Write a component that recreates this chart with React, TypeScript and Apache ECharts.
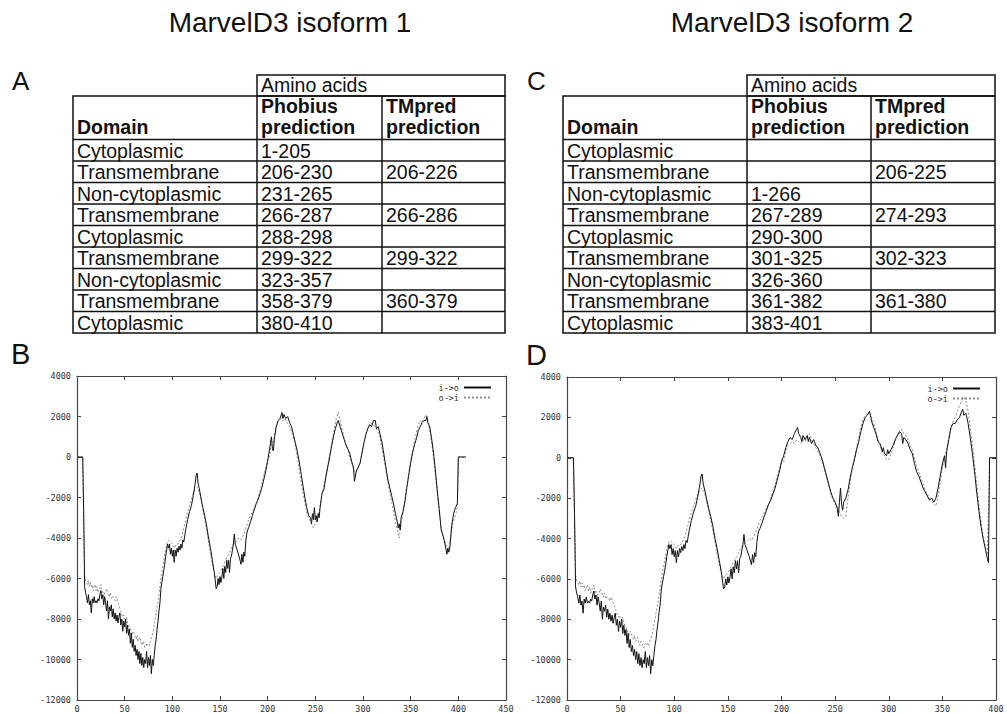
import React, { useEffect, useRef } from "react";
import * as echarts from "echarts";

// ---------- table contents ----------
const domains = ["Cytoplasmic", "Transmembrane", "Non-cytoplasmic", "Transmembrane", "Cytoplasmic", "Transmembrane", "Non-cytoplasmic", "Transmembrane", "Cytoplasmic"];
const iso1Phobius = ["1-205", "206-230", "231-265", "266-287", "288-298", "299-322", "323-357", "358-379", "380-410"];
const iso1TMpred = ["", "206-226", "", "266-286", "", "299-322", "", "360-379", ""];
const iso2Phobius = ["", "", "1-266", "267-289", "290-300", "301-325", "326-360", "361-382", "383-401"];
const iso2TMpred = ["", "206-225", "", "274-293", "", "302-323", "", "361-380", ""];

// ---------- axis ticks ----------
const yMin = -12000, yMax = 4000, yStep = 2000;
const x1Max = 450, x2Max = 400, xStep = 50;

// ---------- TMpred profiles (residue, score) ----------
// N-terminal part, identical in both isoforms
const nTermInOut: [number, number][] = [[0,0],[6,0],[7,-2700],[8,-6400],[9,-6700],[10,-6900],[11,-7200],[12,-6800],[13,-7300],[14,-7100],[15,-7700],[16,-7000],[17,-7200],[18,-6900],[19,-7200],[20,-7100],[21,-7200],[22,-7000],[23,-7100],[24,-6800],[25,-6600],[26,-7000],[27,-6800],[28,-7300],[29,-6900],[30,-7200],[31,-7600],[32,-7100],[33,-8000],[34,-7400],[35,-7600],[36,-7300],[37,-7900],[38,-7500],[39,-8000],[40,-7700],[41,-8100],[42,-7800],[43,-8200],[44,-7900],[45,-7700],[46,-8300],[47,-8000],[48,-8600],[49,-8100],[50,-8400],[51,-8000],[52,-8700],[53,-8300],[54,-8800],[55,-8500],[56,-9200],[57,-8700],[58,-9400],[59,-9000],[60,-9600],[61,-9300],[62,-9800],[63,-9500],[64,-10000],[65,-9600],[66,-10200],[67,-9700],[68,-10300],[69,-9900],[70,-10400],[71,-10000],[72,-10200],[73,-9600],[74,-10400],[75,-9900],[76,-10300],[77,-9800],[78,-10700],[79,-10000],[80,-10300],[81,-9800],[82,-9300],[83,-9000],[84,-8500],[85,-8100],[86,-7600],[87,-7200],[88,-6500],[89,-6200],[90,-5900],[91,-5600],[92,-5300],[93,-4900],[94,-4600],[95,-4300],[96,-4500],[97,-4300],[98,-4800],[99,-4500],[100,-4900],[101,-4600],[102,-5200],[103,-4600],[104,-4900],[105,-4500],[106,-4700],[107,-4400],[108,-4600],[109,-4300],[110,-4500],[111,-4100],[112,-4200],[113,-3900],[114,-3600],[116,-3100],[118,-2700],[120,-2400],[122,-1900],[124,-1300],[125,-900],[126,-800],[127,-1300],[128,-1500],[130,-2000],[132,-2500],[134,-2900],[136,-3400],[138,-4000],[140,-4500],[142,-5100],[144,-5700],[146,-6500],[147,-6400],[148,-6000],[149,-6300],[150,-5900],[151,-6200],[152,-5900],[153,-5500],[154,-6000],[155,-5400],[156,-5700],[157,-5100],[158,-5500],[159,-5100],[160,-5700],[161,-5000],[162,-4900],[163,-4600],[164,-4300],[165,-3800],[166,-4300],[168,-4600],[170,-4900],[172,-5300],[173,-4800],[174,-5200],[175,-4700],[176,-4900],[177,-4200],[178,-3800],[179,-3600],[180,-3500],[182,-3200],[184,-2900],[186,-2600],[188,-2300],[190,-2100],[192,-1800],[194,-1500],[196,-1100],[198,-700],[200,-200]];
const nTermOutIn: [number, number][] = [[0,0],[6,0],[7,-3000],[8,-5800],[9,-6100],[10,-6200],[11,-6300],[12,-6100],[13,-6400],[14,-6200],[15,-6400],[16,-6300],[17,-6600],[18,-6400],[19,-6300],[20,-6600],[21,-6400],[22,-6700],[23,-6500],[24,-6500],[25,-6300],[26,-6700],[27,-6600],[28,-6900],[29,-6700],[30,-6700],[31,-6500],[32,-6600],[33,-6800],[34,-6900],[35,-6700],[36,-7000],[37,-6900],[38,-6900],[39,-7000],[40,-7100],[41,-6900],[42,-7000],[43,-7200],[44,-7300],[45,-7500],[46,-7600],[47,-7800],[48,-7900],[49,-7800],[50,-8000],[51,-8100],[52,-7900],[53,-8200],[54,-8300],[55,-8400],[56,-8500],[57,-8700],[58,-8800],[59,-8600],[60,-8700],[61,-8900],[62,-9000],[63,-8800],[64,-9100],[65,-9000],[66,-8900],[67,-9200],[68,-9300],[69,-9100],[70,-9200],[71,-9400],[72,-9400],[73,-9200],[74,-9300],[75,-9200],[76,-9300],[77,-9100],[78,-9000],[79,-8800],[80,-8600],[82,-8000],[84,-7400],[86,-6800],[88,-6000],[90,-5400],[92,-4800],[94,-4300],[96,-4100],[98,-4200],[100,-4300],[102,-4500],[104,-4300],[106,-4300],[108,-4100],[110,-3900],[112,-3500],[114,-3100],[116,-2700],[118,-2400],[120,-2100],[122,-1800],[124,-1600],[126,-1500],[128,-1700],[130,-2100],[132,-2600],[134,-3100],[136,-3600],[138,-4200],[140,-4800],[142,-5300],[144,-5700],[146,-6000],[148,-5800],[150,-5700],[152,-5500],[154,-5300],[156,-5100],[158,-4900],[160,-4700],[162,-4500],[164,-4300],[166,-4200],[168,-4100],[170,-4000],[172,-4100],[174,-3900],[176,-3700],[178,-3400],[180,-3100],[182,-2900],[184,-2700],[186,-2500],[188,-2300],[190,-2000],[192,-1700],[194,-1300],[196,-900],[198,-500],[200,-100]];

// isoform 1, C-terminal part
const iso1CInOut: [number, number][] = [[202,400],[204,1000],[205,400],[206,300],[207,900],[209,1500],[211,1800],[213,1900],[215,2200],[216,1900],[217,2100],[219,1900],[221,2000],[223,1700],[225,1500],[227,1100],[229,700],[231,300],[233,-200],[235,-800],[237,-1400],[239,-2000],[241,-2500],[243,-2900],[245,-3000],[246,-3300],[247,-2800],[248,-3100],[249,-2500],[250,-3100],[251,-2900],[252,-3200],[253,-2800],[254,-3000],[255,-2500],[257,-1800],[259,-1600],[261,-1000],[263,-500],[265,0],[267,500],[269,1000],[271,1400],[273,1700],[274,1800],[276,1500],[278,1200],[280,900],[282,600],[284,400],[286,200],[288,-200],[290,-500],[291,-1200],[293,-700],[295,-500],[297,-300],[299,200],[301,700],[303,1100],[305,1400],[307,1600],[309,1500],[311,1800],[313,1800],[314,1400],[316,1500],[318,1100],[320,700],[322,100],[324,-500],[326,-1100],[328,-1500],[330,-1900],[332,-2300],[334,-2800],[336,-3200],[337,-3500],[338,-3300],[339,-3600],[340,-3000],[342,-2700],[344,-2200],[346,-1500],[348,-900],[350,-300],[352,200],[354,600],[356,900],[358,1300],[360,1500],[362,1700],[364,1800],[366,1800],[367,2000],[368,1700],[370,1500],[372,900],[374,200],[376,-700],[378,-1700],[380,-2600],[382,-3600],[384,-3900],[386,-4300],[388,-4800],[389,-4500],[390,-4700],[391,-4500],[392,-4000],[393,-3400],[395,-2800],[397,-2500],[399,-2300],[400,0],[408,0]];
const iso1COutIn: [number, number][] = [[202,0],[204,800],[206,700],[208,1300],[210,1700],[212,1800],[214,1900],[216,1800],[218,1900],[220,1700],[222,1600],[224,1400],[226,1100],[228,800],[230,300],[232,-300],[234,-900],[236,-1500],[238,-2000],[240,-2500],[242,-2900],[244,-3100],[246,-3300],[248,-3500],[250,-3300],[252,-3000],[254,-2700],[256,-2100],[258,-1600],[260,-1200],[262,-700],[264,-200],[266,400],[268,900],[270,1400],[272,1900],[274,2200],[276,1800],[278,1400],[280,1000],[282,600],[284,400],[286,0],[288,-300],[290,-600],[292,-900],[294,-600],[296,-400],[298,0],[300,500],[302,900],[304,1300],[306,1500],[308,1700],[310,1600],[312,1500],[314,1400],[316,1200],[318,900],[320,400],[322,-100],[324,-700],[326,-1200],[328,-1700],[330,-2200],[332,-2700],[334,-3200],[336,-3600],[338,-4000],[340,-3300],[342,-2700],[344,-2100],[346,-1400],[348,-800],[350,-200],[352,300],[354,800],[356,1200],[358,1600],[360,1800],[362,1700],[364,1900],[366,2100],[368,1800],[370,1300],[372,700],[374,0],[376,-900],[378,-1800],[380,-2700],[382,-3500],[384,-3900],[386,-4200],[388,-4400],[390,-4500],[392,-3900],[394,-3300],[396,-3000],[398,-2700],[399,-2400],[400,0],[408,0]];

// isoform 2, C-terminal part
const iso2CInOut: [number, number][] = [[202,100],[204,500],[206,800],[208,1000],[210,900],[212,1200],[214,1400],[215,1500],[216,1200],[218,1000],[219,800],[220,1100],[222,900],[224,1100],[225,800],[226,1000],[228,700],[230,900],[232,600],[234,500],[236,200],[238,-100],[240,-500],[242,-900],[244,-1300],[246,-1700],[248,-2000],[250,-2200],[252,-2500],[253,-2900],[254,-2200],[255,-1500],[256,-2300],[257,-2600],[258,-2200],[260,-2000],[262,-1600],[264,-1000],[266,-500],[268,-100],[270,400],[272,800],[274,1300],[276,1700],[278,2000],[280,2100],[282,2300],[283,2100],[284,1800],[286,1500],[288,1200],[290,800],[292,700],[294,300],[295,500],[296,200],[298,100],[299,400],[300,200],[302,400],[304,600],[306,900],[308,1100],[310,1300],[312,1200],[313,700],[314,1000],[316,900],[318,700],[320,400],[322,200],[324,-300],[326,-700],[328,-900],[330,-1200],[332,-1500],[334,-1700],[336,-1900],[338,-2100],[340,-2000],[342,-2200],[344,-2000],[346,-1500],[348,-900],[350,-300],[352,100],[353,-500],[354,300],[356,900],[358,1500],[360,1700],[362,1700],[364,1900],[366,2000],[368,2300],[369,2400],[370,2100],[372,2200],[374,1700],[376,1000],[378,200],[380,-700],[382,-1700],[384,-2600],[386,-3400],[388,-4000],[390,-4500],[392,-5000],[393,-5200],[394,0],[400,0]];
const iso2COutIn: [number, number][] = [[202,-200],[204,300],[206,600],[208,700],[210,800],[212,700],[214,900],[216,800],[218,700],[220,900],[222,800],[224,1000],[226,1200],[228,900],[230,700],[232,500],[234,300],[236,100],[238,-200],[240,-600],[242,-1000],[244,-1400],[246,-1800],[248,-2100],[250,-2300],[252,-2400],[254,-2700],[256,-2900],[258,-3000],[260,-2900],[262,-2000],[264,-1200],[266,-500],[268,0],[270,500],[272,1000],[274,1500],[276,1900],[278,2100],[280,2200],[282,2200],[284,2000],[286,1700],[288,1300],[290,900],[292,600],[294,300],[296,100],[298,-100],[300,-100],[302,200],[304,500],[306,800],[308,1100],[310,1200],[312,1400],[314,1200],[316,1100],[318,900],[320,600],[322,400],[324,0],[326,-400],[328,-700],[330,-1000],[332,-1300],[334,-1600],[336,-1800],[338,-2000],[340,-2200],[342,-2300],[344,-2400],[346,-1900],[348,-1200],[350,-500],[352,0],[354,500],[356,1000],[358,1500],[360,1800],[362,2000],[364,2300],[366,2600],[368,2800],[370,3000],[372,2800],[374,2300],[376,1500],[378,700],[380,-300],[382,-1300],[384,-2300],[386,-3200],[388,-3900],[390,-4400],[392,-4800],[393,-2600],[394,0],[400,0]];

const seriesNames = ["i->o", "o->i"];

const SANS = "'Liberation Sans', Arial, Helvetica, sans-serif";
const MONO = "'DejaVu Sans Mono', 'Liberation Mono', monospace";
const INK = "#111";
const AXIS = "#444";

function buildTable(cols: number[], phob: string[], tm: string[]): any[] {
  const aminoTop = 75;
  const headTop = 96;
  const headBottom = 139.5;
  const bottom = 333;
  const rowH = (bottom - headBottom) / domains.length;
  const stroke = { stroke: INK, lineWidth: 1.5, fill: "none" };
  const els: any[] = [];
  els.push({ type: "rect", shape: { x: cols[1], y: aminoTop, width: cols[3] - cols[1], height: headTop - aminoTop }, style: { ...stroke } });
  els.push({ type: "rect", shape: { x: cols[0], y: headTop, width: cols[3] - cols[0], height: bottom - headTop }, style: { ...stroke } });
  [cols[1], cols[2]].forEach((cx) => els.push({ type: "line", shape: { x1: cx, y1: headTop, x2: cx, y2: bottom }, style: { stroke: INK, lineWidth: 1.5 } }));
  for (let i = 0; i < domains.length; i++) {
    const y = headBottom + i * rowH;
    els.push({ type: "line", shape: { x1: cols[0], y1: y, x2: cols[3], y2: y }, style: { stroke: INK, lineWidth: 1.5 } });
  }
  const txt = (x: number, y: number, text: string, bold = false) => ({
    type: "text", x, y,
    style: { text, fill: INK, fontFamily: SANS, fontSize: 19.5, fontWeight: bold ? "bold" : "normal", align: "left", verticalAlign: "middle" },
  });
  els.push(txt(cols[1] + 4, 84.5, "Amino acids"));
  els.push(txt(cols[0] + 4, 127, "Domain", true));
  els.push(txt(cols[1] + 4, 105.5, "Phobius", true));
  els.push(txt(cols[1] + 4, 127, "prediction", true));
  els.push(txt(cols[2] + 4, 105.5, "TMpred", true));
  els.push(txt(cols[2] + 4, 127, "prediction", true));
  for (let i = 0; i < domains.length; i++) {
    const cy = headBottom + (i + 0.5) * rowH + 0.5;
    els.push(txt(cols[0] + 4, cy, domains[i]));
    if (phob[i]) els.push(txt(cols[1] + 4, cy, phob[i]));
    if (tm[i]) els.push(txt(cols[2] + 4, cy, tm[i]));
  }
  return els;
}

const plainLabel = (v: number) => String(v);

function axisPair(gridIndex: number, max: number) {
  const common = {
    type: "value", gridIndex, min: 0, max, interval: xStep,
    axisLine: { show: true, onZero: false, lineStyle: { color: AXIS, width: 1.2 } },
    axisTick: { show: true, inside: true, length: 4, lineStyle: { color: AXIS } },
    splitLine: { show: false },
  };
  return [
    { ...common, position: "bottom", axisLabel: { show: true, margin: 4, fontFamily: MONO, fontSize: 8.5, color: "#333", formatter: plainLabel } },
    { ...common, position: "top", axisLabel: { show: false } },
  ];
}
function yPair(gridIndex: number) {
  const common = {
    type: "value", gridIndex, min: yMin, max: yMax, interval: yStep,
    axisLine: { show: true, onZero: false, lineStyle: { color: AXIS, width: 1.2 } },
    axisTick: { show: true, inside: true, length: 4, lineStyle: { color: AXIS } },
    splitLine: { show: false },
  };
  return [
    { ...common, position: "left", axisLabel: { show: true, margin: 6, fontFamily: MONO, fontSize: 8.5, color: "#333", formatter: plainLabel } },
    { ...common, position: "right", axisLabel: { show: false } },
  ];
}

export default function App() {
  const ref = useRef<HTMLDivElement>(null);
  useEffect(() => {
    if (!ref.current) return;
    const chart = echarts.init(ref.current, null, { renderer: "svg" });
    const solid = { type: "solid", color: INK, width: 1 };
    const dotted = { type: [2, 2], color: "#8a8a8a", width: 1 };
    const mkSeries = (name: string, data: [number, number][], gi: number, ls: any, z: number) => ({
      name, type: "line", data, xAxisIndex: gi * 2, yAxisIndex: gi * 2, symbol: "none", showSymbol: false,
      lineStyle: ls, itemStyle: { color: ls.color }, z, silent: true,
    });
    const legendCfg = (right: number, top: number) => ({
      data: seriesNames, orient: "vertical", right, top, align: "right", selectedMode: false,
      itemWidth: 27, itemHeight: 8, itemGap: 1,
      itemStyle: { opacity: 0, color: "transparent", borderColor: "transparent", borderWidth: 0 },
      textStyle: { fontFamily: MONO, fontSize: 8.5, color: "#333" },
    });
    chart.setOption({
      animation: false,
      backgroundColor: "#fff",
      grid: [
        { left: 77, top: 376, width: 429, height: 326, show: false },
        { left: 567, top: 377, width: 429, height: 326, show: false },
      ],
      xAxis: [...axisPair(0, x1Max), ...axisPair(1, x2Max)],
      yAxis: [...yPair(0), ...yPair(1)],
      legend: [legendCfg(510, 378), legendCfg(21, 379)],
      series: [
        mkSeries(seriesNames[1], nTermOutIn.concat(iso1COutIn), 0, dotted, 2),
        mkSeries(seriesNames[0], nTermInOut.concat(iso1CInOut), 0, solid, 3),
        mkSeries(seriesNames[1], nTermOutIn.concat(iso2COutIn), 1, dotted, 2),
        mkSeries(seriesNames[0], nTermInOut.concat(iso2CInOut), 1, solid, 3),
      ],
      graphic: [
        { type: "text", x: 290, y: 36, silent: true, style: { text: "MarvelD3 isoform 1", fill: INK, fontFamily: SANS, fontSize: 28, align: "center", verticalAlign: "bottom" } },
        { type: "text", x: 792, y: 36, silent: true, style: { text: "MarvelD3 isoform 2", fill: INK, fontFamily: SANS, fontSize: 28, align: "center", verticalAlign: "bottom" } },
        { type: "text", x: 12, y: 81, silent: true, style: { text: "A", fill: INK, fontFamily: SANS, fontSize: 26, align: "left", verticalAlign: "middle" } },
        { type: "text", x: 527, y: 81, silent: true, style: { text: "C", fill: INK, fontFamily: SANS, fontSize: 26, align: "left", verticalAlign: "middle" } },
        { type: "text", x: 11, y: 354, silent: true, style: { text: "B", fill: INK, fontFamily: SANS, fontSize: 29, align: "left", verticalAlign: "middle" } },
        { type: "text", x: 526, y: 355, silent: true, style: { text: "D", fill: INK, fontFamily: SANS, fontSize: 29, align: "left", verticalAlign: "middle" } },
        ...buildTable([73, 257, 382, 505], iso1Phobius, iso1TMpred).map((e) => ({ ...e, silent: true })),
        ...buildTable([563, 747, 871, 995], iso2Phobius, iso2TMpred).map((e) => ({ ...e, silent: true })),
      ],
    });
    return () => chart.dispose();
  }, []);
  return <div ref={ref} style={{ position: "absolute", left: 0, top: 0, width: 1007, height: 713 }} />;
}
